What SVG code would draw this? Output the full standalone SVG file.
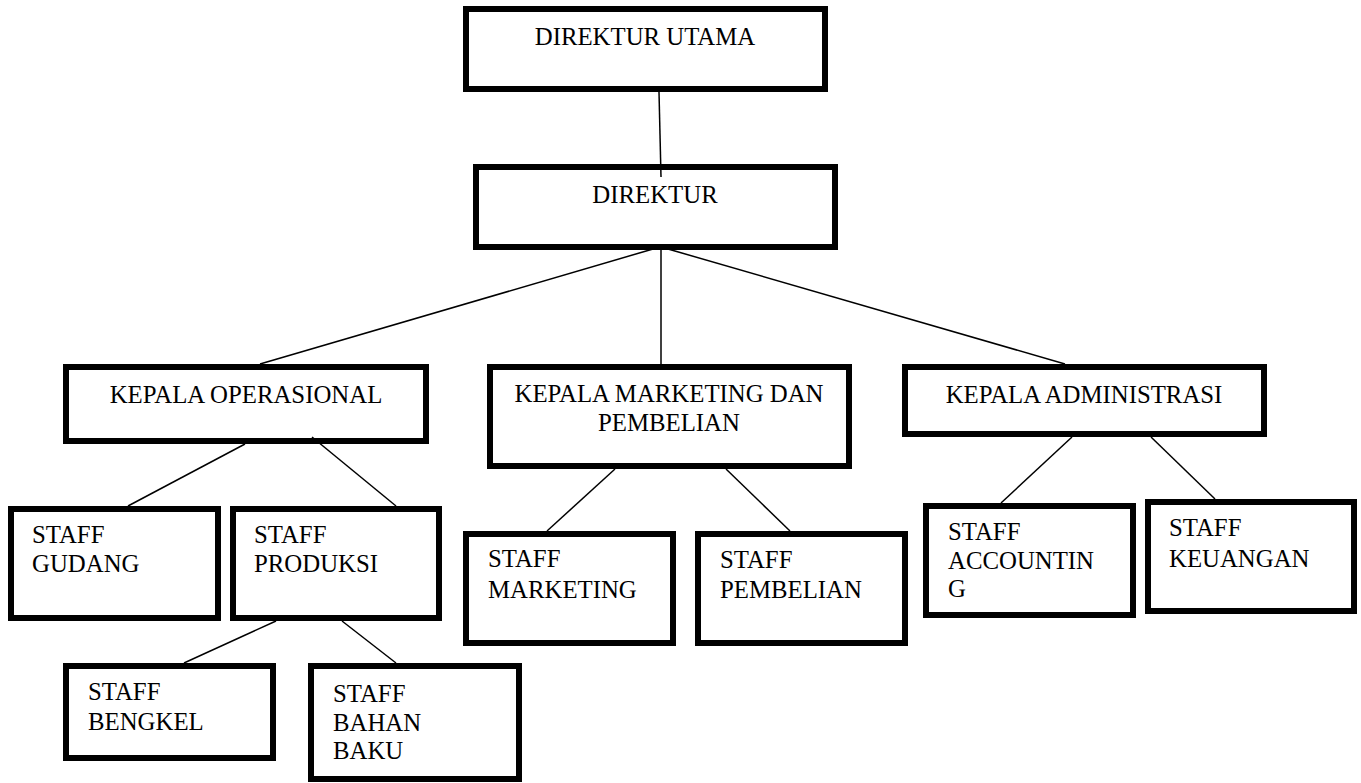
<svg xmlns="http://www.w3.org/2000/svg" width="1361" height="783" viewBox="0 0 1361 783">
<style>
.box{fill:#fff;stroke:#000;stroke-width:6}
text{font-family:'Liberation Serif','Times New Roman',serif;font-size:24.8px;fill:#000}
.c{text-anchor:middle}
.ln{stroke:#000;stroke-width:1.5;fill:none}
</style>
<rect width="1361" height="783" fill="#fff"/>
<g id="direktur-utama"><rect class="box" x="466" y="9" width="359" height="80"/><text class="c" x="645" y="45">DIREKTUR UTAMA</text></g>
<g id="direktur"><rect class="box" x="476" y="167" width="359" height="80"/><text class="c" x="655" y="203">DIREKTUR</text></g>
<g id="kepala-operasional"><rect class="box" x="66" y="367" width="360" height="74"/><text class="c" x="246" y="403">KEPALA OPERASIONAL</text></g>
<g id="kepala-marketing"><rect class="box" x="490" y="367" width="359" height="99"/><text class="c" x="669" y="402">KEPALA MARKETING DAN</text><text class="c" x="669" y="431">PEMBELIAN</text></g>
<g id="kepala-administrasi"><rect class="box" x="905" y="367" width="359" height="67"/><text class="c" x="1084" y="403">KEPALA ADMINISTRASI</text></g>
<g id="staff-gudang"><rect class="box" x="11" y="509" width="207" height="109"/><text x="32" y="543">STAFF</text><text x="32" y="572">GUDANG</text></g>
<g id="staff-produksi"><rect class="box" x="233" y="509" width="206" height="109"/><text x="254" y="543">STAFF</text><text x="254" y="572">PRODUKSI</text></g>
<g id="staff-bengkel"><rect class="box" x="66" y="666" width="207" height="92"/><text x="88" y="700">STAFF</text><text x="88" y="730">BENGKEL</text></g>
<g id="staff-bahan-baku"><rect class="box" x="311" y="666" width="208" height="113"/><text x="333" y="702">STAFF</text><text x="333" y="731">BAHAN</text><text x="333" y="759">BAKU</text></g>
<g id="staff-marketing"><rect class="box" x="466" y="534" width="207" height="109"/><text x="488" y="567">STAFF</text><text x="488" y="598">MARKETING</text></g>
<g id="staff-pembelian"><rect class="box" x="698" y="534" width="207" height="109"/><text x="720" y="568">STAFF</text><text x="720" y="598">PEMBELIAN</text></g>
<g id="staff-accounting"><rect class="box" x="926" y="506" width="207" height="109"/><text x="948" y="540">STAFF</text><text x="948" y="569">ACCOUNTIN</text><text x="948" y="597">G</text></g>
<g id="staff-keuangan"><rect class="box" x="1148" y="502" width="206" height="109"/><text x="1169" y="536">STAFF</text><text x="1169" y="567">KEUANGAN</text></g>
<g id="connectors" class="ln">
<line x1="659" y1="92" x2="661" y2="177"/>
<line x1="653" y1="249" x2="260" y2="364"/>
<line x1="661" y1="249" x2="661" y2="364"/>
<line x1="668" y1="249" x2="1065" y2="364"/>
<line x1="245" y1="444" x2="128" y2="506"/>
<line x1="312" y1="437" x2="396" y2="506"/>
<line x1="276" y1="621" x2="184" y2="663"/>
<line x1="342" y1="621" x2="396" y2="663"/>
<line x1="615" y1="469" x2="547" y2="531"/>
<line x1="726" y1="469" x2="790" y2="531"/>
<line x1="1072" y1="437" x2="1001" y2="503"/>
<line x1="1151" y1="437" x2="1215" y2="499"/>
</g>
</svg>
